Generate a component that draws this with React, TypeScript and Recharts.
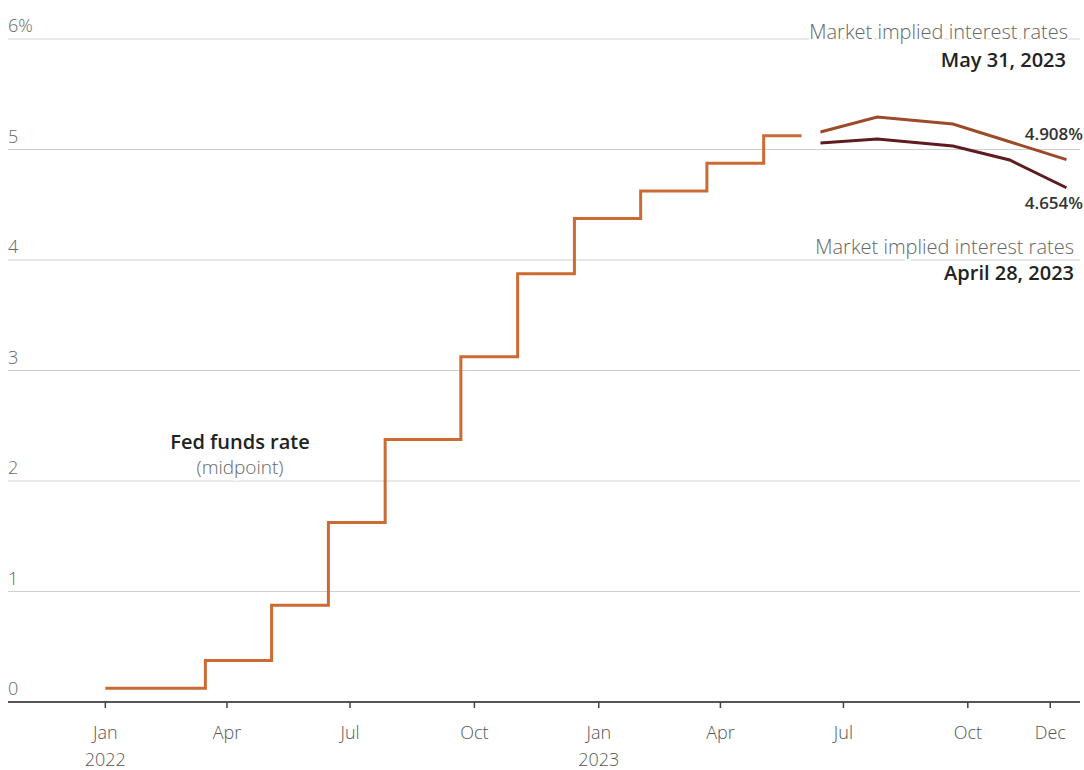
import React from "react";
import {
  ComposedChart,
  Line,
  XAxis,
  YAxis,
  CartesianGrid,
  LabelList,
} from "recharts";

const DAY = 86400000;
const BASE = Date.UTC(2022, 0, 1);
const toDay = (s: string) => (Date.parse(s) - BASE) / DAY;

// Fed funds rate midpoint, step changes (FOMC decision dates)
const fedDates = [
  "2022-01-01", "2022-03-16", "2022-05-04", "2022-06-15", "2022-07-27",
  "2022-09-21", "2022-11-02", "2022-12-14", "2023-02-01", "2023-03-22",
  "2023-05-03", "2023-05-31",
];
const fedRates = [
  0.125, 0.375, 0.875, 1.625, 2.375, 3.125, 3.875, 4.375, 4.625, 4.875,
  5.125, 5.125,
];

// Market implied rates at upcoming meetings
const meetingDates = ["2023-06-14", "2023-07-26", "2023-09-20", "2023-11-01", "2023-12-13"];
const may31Rates = [5.158, 5.294, 5.231, 5.07, 4.908];
const apr28Rates = [5.059, 5.095, 5.032, 4.905, 4.654];

const tickDates = [
  "2022-01-01", "2022-04-01", "2022-07-01", "2022-10-01", "2023-01-01",
  "2023-04-01", "2023-07-01", "2023-10-01", "2023-12-01",
];
const tickMonths = ["Jan", "Apr", "Jul", "Oct", "Jan", "Apr", "Jul", "Oct", "Dec"];
const tickYears = ["2022", "", "", "", "2023", "", "", "", ""];
const yTicks = [0, 1, 2, 3, 4, 5, 6];

const fedData = fedDates.map((d, i) => ({ t: toDay(d), v: fedRates[i] }));
const mayData = meetingDates.map((d, i) => ({ t: toDay(d), v: may31Rates[i] }));
const aprData = meetingDates.map((d, i) => ({ t: toDay(d), v: apr28Rates[i] }));
const tickDays = tickDates.map(toDay);

const FONT = "'Open Sans', 'Noto Sans', sans-serif";

const XTick = (props: any) => {
  const { x, y, payload } = props;
  const i = tickDays.indexOf(payload.value);
  return (
    <g>
      <line x1={x} x2={x} y1={y - 8} y2={y - 2} stroke="#444" strokeWidth={1.5} />
      <text x={x} y={y + 29} textAnchor="middle" fill="#555" fontSize={18} fontWeight={300} fontFamily={FONT}>
        {tickMonths[i]}
      </text>
      {tickYears[i] && (
        <text x={x} y={y + 56} textAnchor="middle" fill="#555" fontSize={18} fontWeight={300} fontFamily={FONT}>
          {tickYears[i]}
        </text>
      )}
    </g>
  );
};

const YTick = (props: any) => {
  const { y, payload } = props;
  return (
    <text x={8} y={y - 7} fill="#666" fontSize={18} fontWeight={300} fontFamily={FONT}>
      {payload.value === 6 ? "6%" : String(payload.value)}
    </text>
  );
};

const endLabel = (text: string, dy: number) => (props: any) => {
  const { y, index } = props;
  if (index !== meetingDates.length - 1) return null;
  return (
    <text x={1083} y={y + dy} textAnchor="end" fill="#333" fontSize={17} fontWeight={600} fontFamily={FONT}>
      {text}
    </text>
  );
};

const halo = { stroke: "#fff", strokeWidth: 5, paintOrder: "stroke" as const };

export default function App() {
  return (
    <div style={{ position: "absolute", left: 0, top: 0, width: 1084, height: 770, background: "#fff" }}>
      <ComposedChart
        width={1084}
        height={770}
        margin={{ top: 39, right: 4, bottom: 0, left: 0 }}
      >
        <CartesianGrid vertical={false} stroke="#cfcfcf" strokeWidth={1} />
        <XAxis
          type="number"
          dataKey="t"
          domain={[-72, 721]}
          ticks={tickDays}
          interval={0}
          allowDataOverflow
          axisLine={{ stroke: "#555", strokeWidth: 2 }}
          tickLine={false}
          tick={<XTick />}
          height={68}
        />
        <YAxis
          type="number"
          domain={[0, 6]}
          ticks={yTicks}
          width={8}
          interval={0}
          axisLine={false}
          tickLine={false}
          tick={<YTick />}
        />
        <Line
          data={fedData}
          dataKey="v"
          type="stepAfter"
          stroke="#cc6a34"
          strokeWidth={3}
          dot={false}
          isAnimationActive={false}
        />
        <Line
          data={aprData}
          dataKey="v"
          type="linear"
          stroke="#5e1b20"
          strokeWidth={3}
          dot={false}
          isAnimationActive={false}
        >
          <LabelList dataKey="v" content={endLabel("4.654%", 21)} />
        </Line>
        <Line
          data={mayData}
          dataKey="v"
          type="linear"
          stroke="#9c4a28"
          strokeWidth={3}
          dot={false}
          isAnimationActive={false}
        >
          <LabelList dataKey="v" content={endLabel("4.908%", -20)} />
        </Line>
      </ComposedChart>
      <svg
        width={1084}
        height={770}
        style={{ position: "absolute", left: 0, top: 0, pointerEvents: "none" }}
        fontFamily={FONT}
      >
        <text x={1068} y={39} textAnchor="end" fill="#666" fontSize={20} fontWeight={300} {...halo}>
          Market implied interest rates
        </text>
        <text x={1066} y={67} textAnchor="end" fill="#222" fontSize={20} fontWeight={600}>
          May 31, 2023
        </text>
        <text x={1074} y={254} textAnchor="end" fill="#666" fontSize={20} fontWeight={300} {...halo}>
          Market implied interest rates
        </text>
        <text x={1074} y={280} textAnchor="end" fill="#222" fontSize={20} fontWeight={600}>
          April 28, 2023
        </text>
        <text x={240} y={449} textAnchor="middle" fill="#222" fontSize={20} fontWeight={600}>
          Fed funds rate
        </text>
        <text x={240} y={474} textAnchor="middle" fill="#666" fontSize={19} fontWeight={300} {...halo}>
          (midpoint)
        </text>
      </svg>
    </div>
  );
}
